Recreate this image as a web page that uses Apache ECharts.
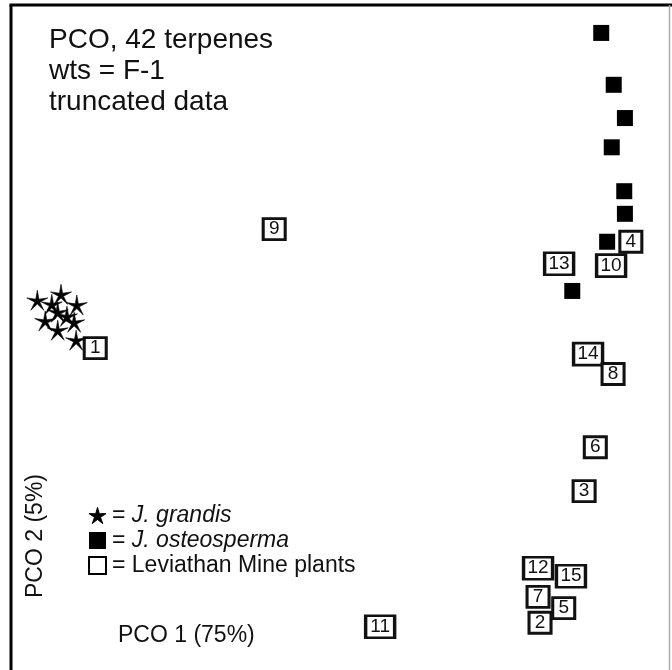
<!DOCTYPE html>
<html>
<head>
<meta charset="utf-8">
<script src="https://cdn.jsdelivr.net/npm/echarts@6/dist/echarts.min.js"></script>
<style>
html,body{margin:0;padding:0;background:#fff;}
#chart{width:672px;height:670px;}
</style>
</head>
<body>
<div id="chart"></div>
<script>
// PCO scores (arbitrary units, 0-100 across the plotted frame)
const grandisPCO1 = [4.0, 7.6, 6.2, 10.0, 5.2, 7.1, 8.5, 9.6, 7.1, 9.9];
const grandisPCO2 = [55.6, 56.5, 55.0, 54.9, 52.5, 53.8, 53.2, 52.3, 51.1, 49.6];

const osteoPCO1 = [89.7, 91.6, 93.3, 91.3, 93.2, 93.3, 90.6, 85.3];
const osteoPCO2 = [95.8, 88.0, 83.0, 78.6, 72.0, 68.6, 64.4, 57.0];

const mineLabels = ['1', '2', '3', '4', '5', '6', '7', '9', '10', '11', '12', '13', '14', '8', '15'];
const minePCO1 = [12.8, 80.4, 87.1, 94.2, 84.0, 88.8, 80.1, 40.0, 91.2, 56.1, 80.1, 83.3, 87.7, 91.5, 85.1];
const minePCO2 = [48.4, 7.1, 26.9, 64.4, 9.3, 33.5, 11.0, 66.3, 60.8, 6.5, 15.3, 61.1, 47.5, 44.5, 14.1];

const seriesNames = ['J. grandis', 'J. osteosperma', 'Leviathan Mine plants'];
const titleLines = ['PCO, 42 terpenes', 'wts = F-1', 'truncated data'];
const xAxisName = 'PCO 1 (75%)';
const yAxisName = 'PCO 2 (5%)';

const starPath = 'path://M100,0 L120.6,71.7 L195.1,69.1 L133.3,110.8 L158.8,180.9 L100,135 L41.2,180.9 L66.7,110.8 L4.9,69.1 L79.4,71.7 Z';
const thinStarPath = 'path://M100,0 L114.1,80.6 L195.1,69.1 L122.8,107.4 L158.8,180.9 L100,124 L41.2,180.9 L77.2,107.4 L4.9,69.1 L85.9,80.6 Z';

const chart = echarts.init(document.getElementById('chart'), null, {renderer: 'canvas'});
const FONT = 'Liberation Sans, Arial, sans-serif';

const option = {
  backgroundColor: '#fff',
  animation: false,
  title: {
    text: titleLines.join('\n'),
    left: 44,
    top: 20,
    textStyle: {fontFamily: FONT, fontSize: 28, fontWeight: 'normal', color: '#111', lineHeight: 31}
  },
  legend: {
    orient: 'vertical',
    left: 83,
    top: 499,
    itemWidth: 17,
    itemHeight: 17,
    itemGap: 2,
    selectedMode: false,
    data: [
      {name: seriesNames[0], icon: starPath, itemStyle: {color: '#000', borderColor: '#000', borderWidth: 1}},
      {name: seriesNames[1], icon: 'rect', itemStyle: {color: '#000'}},
      {name: seriesNames[2], icon: 'rect', itemStyle: {color: '#fff', borderColor: '#000', borderWidth: 2}}
    ],
    formatter: function (name) {
      return name === seriesNames[2] ? '= ' + name : '= {i|' + name + '}';
    },
    textStyle: {
      fontFamily: FONT, fontSize: 23, color: '#111', lineHeight: 23, padding: [0, 0, 0, 1],
      rich: {i: {fontFamily: FONT, fontSize: 23, fontStyle: 'italic', color: '#111', lineHeight: 23}}
    }
  },
  grid: {left: 11, right: 3, top: 5, bottom: 0, containLabel: false},
  xAxis: {type: 'value', min: 0, max: 100, show: false},
  yAxis: {type: 'value', min: 0, max: 100, show: false},
  graphic: [
    {type: 'line', shape: {x1: 11, y1: 5, x2: 11, y2: 672}, style: {stroke: '#000', lineWidth: 3}},
    {type: 'line', shape: {x1: 9.5, y1: 5, x2: 672, y2: 5}, style: {stroke: '#000', lineWidth: 3}},
    {type: 'line', shape: {x1: 669.5, y1: 5, x2: 669.5, y2: 672}, style: {stroke: '#aaa', lineWidth: 1.5}},
    {type: 'text', left: 118, top: 624, style: {text: xAxisName, font: '23px ' + FONT, fill: '#111'}},
    {type: 'text', x: 36, y: 536, rotation: Math.PI / 2, style: {text: yAxisName, font: '23px ' + FONT, fill: '#111', align: 'center', verticalAlign: 'middle'}}
  ],
  series: [
    {
      name: seriesNames[0], type: 'scatter', symbol: thinStarPath, symbolSize: [21, 20],
      itemStyle: {color: '#000', borderColor: '#000', borderWidth: 0.6, opacity: 1}, z: 3,
      data: grandisPCO1.map((v, i) => [v, grandisPCO2[i]])
    },
    {
      name: seriesNames[2], type: 'scatter', symbol: 'rect',
      itemStyle: {color: '#fff', borderColor: '#111', borderWidth: 3, opacity: 1}, z: 2,
      data: minePCO1.map((v, i) => ({
        value: [v, minePCO2[i]],
        name: mineLabels[i],
        symbolSize: mineLabels[i].length > 1 ? [29, 22] : [22, 21]
      })),
      label: {show: true, position: 'inside', formatter: '{b}', fontFamily: FONT, fontSize: 19, color: '#111'}
    },
    {
      name: seriesNames[1], type: 'scatter', symbol: 'rect', symbolSize: 16,
      itemStyle: {color: '#000', opacity: 1}, z: 4,
      data: osteoPCO1.map((v, i) => [v, osteoPCO2[i]])
    }
  ]
};
chart.setOption(option);
</script>
</body>
</html>
